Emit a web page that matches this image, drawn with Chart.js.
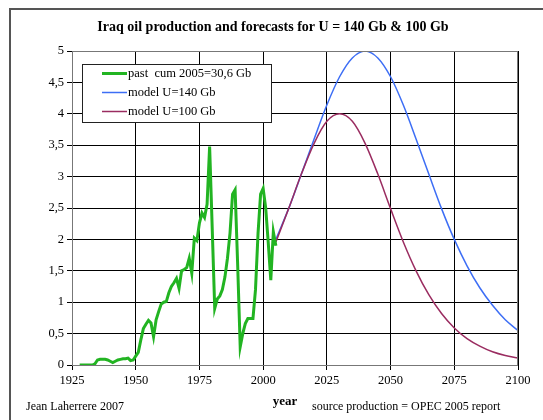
<!DOCTYPE html>
<html>
<head>
<meta charset="utf-8">
<script src="https://cdn.jsdelivr.net/npm/chart.js@4/dist/chart.umd.min.js"></script>
<style>
html,body{margin:0;padding:0;background:#fff;}
#wrap{position:relative;width:543px;height:420px;}
</style>
</head>
<body>
<div id="wrap"><canvas id="c" width="543" height="420"></canvas></div>
<script>
// ---- data ----
const titleText = 'Iraq oil production and forecasts for U = 140 Gb & 100 Gb';
const xTicks = [1925, 1950, 1975, 2000, 2025, 2050, 2075, 2100];
const yTicks = [0, 0.5, 1, 1.5, 2, 2.5, 3, 3.5, 4, 4.5, 5];

const pastYears = [1928,1929,1930,1931,1932,1933,1934,1935,1936,1937,1938,1939,1940,1941,1942,1943,1944,1945,1946,1947,1948,1949,
  1950,1951,1952,1953,1954,1955,1956,1957,1958,1959,1960,1961,1962,1963,1964,1965,1966,1967,1968,1969,
  1970,1971,1972,1973,1974,1975,1976,1977,1978,1979,1980,1981,1982,1983,1984,1985,1986,1987,1988,1989,
  1990,1991,1992,1993,1994,1995,1996,1997,1998,1999,2000,2001,2002,2003,2004,2005];
const pastValues = [0.0,0.0,0.0,0.0,0.0,0.0,0.02,0.08,0.09,0.09,0.09,0.08,0.06,0.04,0.06,0.08,0.09,0.1,0.1,0.11,0.07,0.08,
  0.14,0.2,0.4,0.58,0.65,0.71,0.67,0.45,0.72,0.85,0.97,1.0,1.01,1.15,1.25,1.31,1.38,1.22,1.5,1.52,
  1.55,1.7,1.46,2.02,1.98,2.26,2.42,2.35,2.56,3.48,2.2,0.9,1.05,1.1,1.2,1.4,1.7,2.1,2.72,2.79,
  1.6,0.29,0.5,0.66,0.74,0.74,0.74,1.2,2.1,2.72,2.81,2.5,1.95,1.35,2.12,1.9];

const modelYears = [2005,2010,2015,2020,2025,2030,2035,2040,2045,2050,2055,2060,2065,2070,2075,2080,2085,2090,2095,2100];
const modelU140 = [2.0,2.49,3.04,3.6,4.14,4.59,4.89,5.0,4.89,4.59,4.14,3.6,3.04,2.49,2.0,1.58,1.23,0.95,0.72,0.55];
const modelU100 = [1.96,2.49,3.04,3.53,3.88,4.0,3.88,3.53,3.04,2.49,1.96,1.5,1.12,0.82,0.59,0.42,0.3,0.21,0.15,0.11];

const seriesLabels = ['past  cum 2005=30,6 Gb', 'model U=140 Gb', 'model U=100 Gb'];
const xAxisTitle = 'year';
const leftNote = 'Jean Laherrere 2007';
const rightNote = 'source production = OPEC 2005 report';

// ---- styles ----
const GREEN = '#22b422';
const BLUE = '#3d6ef5';
const RED = '#9a2c60';
const SERIF = '"Liberation Serif", "Times New Roman", serif';

const toXY = (xs, ys) => xs.map((x, i) => ({x: x, y: ys[i]}));

const decorPlugin = {
  id: 'decor',
  beforeDraw(chart) {
    const ctx = chart.ctx;
    ctx.save();
    ctx.fillStyle = '#fff';
    ctx.fillRect(0, 0, chart.width, chart.height);
    ctx.strokeStyle = '#555';
    ctx.lineWidth = 2;
    ctx.beginPath();
    ctx.moveTo(10, 420);
    ctx.lineTo(10, 9);
    ctx.lineTo(543, 9);
    ctx.stroke();
    ctx.restore();
  },
  afterDraw(chart) {
    const ctx = chart.ctx;
    const a = chart.chartArea;
    ctx.save();
    ctx.strokeStyle = '#777';
    ctx.lineWidth = 1;
    ctx.strokeRect(a.left + 0.5, a.top + 0.5, a.right - a.left - 1, a.bottom - a.top);
    ctx.fillStyle = '#000';
    ctx.font = 'bold 14px ' + SERIF;
    ctx.textAlign = 'center';
    ctx.textBaseline = 'middle';
    ctx.fillText(titleText, 273, 27);
    ctx.font = 'bold 13px ' + SERIF;
    ctx.fillText(xAxisTitle, 285, 402);
    ctx.font = '12px ' + SERIF;
    ctx.textAlign = 'left';
    ctx.fillText(leftNote, 26, 407);
    ctx.fillText(rightNote, 312, 407);
    const bx = 82, by = 64, bw = 189, bh = 58;
    ctx.fillStyle = '#fff';
    ctx.fillRect(bx, by, bw, bh);
    ctx.strokeStyle = '#222';
    ctx.lineWidth = 1;
    ctx.strokeRect(bx + 0.5, by + 0.5, bw, bh);
    const rows = [73.5, 92.5, 111.5];
    chart.data.datasets.forEach((ds, i) => {
      ctx.strokeStyle = ds.borderColor;
      ctx.lineWidth = i === 0 ? 3 : 1.5;
      ctx.beginPath();
      ctx.moveTo(102, rows[i]);
      ctx.lineTo(127, rows[i]);
      ctx.stroke();
      ctx.fillStyle = '#000';
      ctx.font = '12.5px ' + SERIF;
      ctx.textAlign = 'left';
      ctx.textBaseline = 'middle';
      ctx.fillText(ds.label, 128, rows[i] + 0.5);
    });
    ctx.restore();
  }
};

new Chart(document.getElementById('c'), {
  type: 'line',
  data: {
    datasets: [
      {label: seriesLabels[0], data: toXY(pastYears, pastValues), borderColor: GREEN, borderWidth: 3, pointRadius: 0, tension: 0, order: 1},
      {label: seriesLabels[1], data: toXY(modelYears, modelU140), borderColor: BLUE, borderWidth: 1.5, pointRadius: 0, cubicInterpolationMode: 'monotone', order: 3},
      {label: seriesLabels[2], data: toXY(modelYears, modelU100), borderColor: RED, borderWidth: 1.5, pointRadius: 0, cubicInterpolationMode: 'monotone', order: 2}
    ]
  },
  options: {
    responsive: false,
    animation: false,
    layout: {padding: {top: 51, right: 25, bottom: 0, left: 0}},
    plugins: {legend: {display: false}, title: {display: false}, tooltip: {enabled: false}},
    scales: {
      x: {
        type: 'linear', min: 1925, max: 2100,
        afterBuildTicks: s => { s.ticks = xTicks.map(v => ({value: v})); },
        afterFit: s => { s.height = 55; },
        grid: {color: '#000', lineWidth: 1, drawTicks: true, tickLength: 5, tickColor: '#000'},
        border: {display: true, color: '#000', width: 1},
        ticks: {color: '#000', font: {family: SERIF, size: 12.5}, padding: 3, maxRotation: 0, autoSkip: false,
          callback: v => String(v)}
      },
      y: {
        min: 0, max: 5,
        afterBuildTicks: s => { s.ticks = yTicks.map(v => ({value: v})); },
        afterFit: s => { s.width = 72; },
        grid: {color: '#000', lineWidth: 1, drawTicks: true, tickLength: 5, tickColor: '#000'},
        border: {display: true, color: '#000', width: 1},
        ticks: {color: '#000', font: {family: SERIF, size: 12.5}, padding: 3,
          callback: v => String(v).replace('.', ',')}
      }
    }
  },
  plugins: [decorPlugin]
});
</script>
</body>
</html>
